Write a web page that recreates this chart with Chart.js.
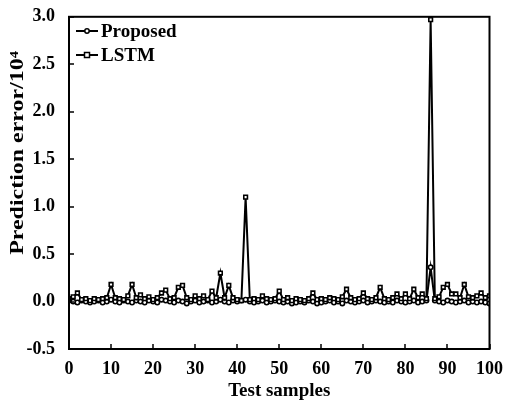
<!DOCTYPE html>
<html>
<head>
<meta charset="utf-8">
<script src="https://cdn.jsdelivr.net/npm/chart.js@4.4.1/dist/chart.umd.min.js"></script>
<style>
html,body{margin:0;padding:0;background:#fff;}
#wrap{width:505px;height:402px;position:relative;}
</style>
</head>
<body>
<div id="wrap"><canvas id="c" width="505" height="402"></canvas></div>
<script>
const samples = [0,1,2,3,4,5,6,7,8,9,10,11,12,13,14,15,16,17,18,19,20,21,22,23,24,25,26,27,28,29,30,31,32,33,34,35,36,37,38,39,40,41,42,43,44,45,46,47,48,49,50,51,52,53,54,55,56,57,58,59,60,61,62,63,64,65,66,67,68,69,70,71,72,73,74,75,76,77,78,79,80,81,82,83,84,85,86,87,88,89,90,91,92,93,94,95,96,97,98,99,100];
const proposed = [
 0.01,0.00,-0.01,0.01,0.00,-0.01,0.00,0.01,-0.01,0.00,
 0.02,0.00,-0.01,0.01,0.00,-0.01,0.01,0.00,-0.01,0.01,
 0.00,-0.01,0.02,0.01,0.00,-0.01,0.01,0.00,-0.02,0.00,
 0.01,-0.01,0.00,0.01,-0.01,0.00,0.02,0.00,-0.01,0.01,
 0.00,0.01,0.02,0.00,-0.01,0.00,0.01,-0.01,0.00,0.01,
 0.00,-0.01,0.00,-0.02,-0.01,0.00,-0.01,0.01,0.00,-0.02,
 -0.01,0.00,0.01,-0.01,0.00,-0.02,0.01,0.00,-0.01,0.00,
 0.01,-0.01,0.00,0.01,0.00,-0.01,0.00,-0.01,0.01,0.00,
 -0.01,0.00,0.01,-0.01,0.00,0.01,0.36,0.01,0.00,-0.01,
 0.01,0.00,-0.01,0.00,0.01,-0.01,0.00,-0.01,0.00,-0.01,
 -0.02];
const lstm = [
 0.03,0.05,0.09,0.02,0.03,0.01,0.03,0.02,0.03,0.04,
 0.18,0.04,0.03,0.02,0.06,0.18,0.04,0.07,0.03,0.05,
 0.02,0.04,0.09,0.12,0.03,0.04,0.15,0.17,0.04,0.02,
 0.06,0.03,0.06,0.02,0.11,0.04,0.30,0.04,0.17,0.04,
 0.02,0.01,1.10,0.02,0.03,0.02,0.06,0.03,0.02,0.03,
 0.11,0.02,0.04,0.01,0.03,0.02,0.01,0.03,0.09,0.02,
 0.03,0.02,0.04,0.03,0.02,0.05,0.13,0.04,0.02,0.03,
 0.09,0.03,0.02,0.04,0.15,0.03,0.02,0.04,0.08,0.03,
 0.08,0.03,0.13,0.04,0.08,0.03,2.97,0.03,0.05,0.15,
 0.18,0.08,0.08,0.04,0.18,0.05,0.04,0.06,0.09,0.04,
 0.06];
const seriesNames = ['Proposed','LSTM'];
const xTitle = 'Test samples';
const yTitle = 'Prediction error/10\u2074';

const FONT = '"Liberation Serif","Times New Roman",serif';
function pts(arr){ return samples.map((s,i)=>({x:s,y:arr[i]})); }

const framePlugin = {
  id:'frame',
  afterDraw(chart){
    const ctx = chart.ctx, a = chart.chartArea;
    const xs = chart.scales.x, ys = chart.scales.y;
    ctx.save();
    ctx.strokeStyle = '#000';
    ctx.lineWidth = 2;
    ctx.strokeRect(a.left, a.top, a.right - a.left, a.bottom - a.top);
    ctx.lineWidth = 1.5;
    ctx.beginPath();
    xs.ticks.forEach(t=>{
      const px = Math.round(xs.getPixelForValue(t.value));
      ctx.moveTo(px, a.bottom); ctx.lineTo(px, a.bottom - 5);
    });
    ys.ticks.forEach(t=>{
      const py = Math.round(ys.getPixelForValue(t.value));
      ctx.moveTo(a.left, py); ctx.lineTo(a.left + 5, py);
    });
    ctx.stroke();
    // y title
    ctx.fillStyle = '#000';
    ctx.font = 'bold 19px ' + FONT;
    ctx.textAlign = 'center';
    ctx.textBaseline = 'middle';
    ctx.translate(18, 153);
    ctx.rotate(-Math.PI/2);
    ctx.scale(1.26, 1);
    ctx.fillText(yTitle, 0, 0);
    ctx.restore();
    // legend
    ctx.save();
    const items = [
      {name:seriesNames[0], y:31, style:'circle'},
      {name:seriesNames[1], y:55, style:'rect'}
    ];
    items.forEach(it=>{
      ctx.strokeStyle = '#000';
      ctx.lineWidth = 2;
      ctx.beginPath(); ctx.moveTo(76, it.y); ctx.lineTo(98, it.y); ctx.stroke();
      ctx.lineWidth = 1.5;
      ctx.fillStyle = '#fff';
      if(it.style==='circle'){
        ctx.beginPath(); ctx.arc(87, it.y, 2.2, 0, Math.PI*2); ctx.fill(); ctx.stroke();
      } else {
        ctx.fillRect(84.5, it.y-2.5, 5, 5); ctx.strokeRect(84.5, it.y-2.5, 5, 5);
      }
      ctx.fillStyle = '#000';
      ctx.font = 'bold 19px ' + FONT;
      ctx.textAlign = 'left';
      ctx.textBaseline = 'middle';
      ctx.fillText(it.name, 101, it.y + 1);
    });
    ctx.restore();
  }
};

new Chart(document.getElementById('c'), {
  type:'line',
  data:{
    datasets:[
      {label:seriesNames[1], data:pts(lstm), borderColor:'#000', borderWidth:2,
       pointStyle:'rect', pointRadius:2.6, pointBorderWidth:1.6, pointBackgroundColor:'#fff', pointBorderColor:'#000', tension:0},
      {label:seriesNames[0], data:pts(proposed), borderColor:'#000', borderWidth:2,
       pointStyle:'circle', pointRadius:2.2, pointBorderWidth:1.6, pointBackgroundColor:'#fff', pointBorderColor:'#000', tension:0}
    ]
  },
  options:{
    responsive:false,
    animation:false,
    layout:{padding:{left:0,right:15,top:14,bottom:0}},
    plugins:{legend:{display:false}, tooltip:{enabled:false}},
    scales:{
      x:{type:'linear', min:0, max:100,
         ticks:{stepSize:10, color:'#000', font:{family:FONT, size:18, weight:'bold'}, padding:2, maxRotation:0},
         grid:{display:false}, border:{display:false},
         title:{display:true, text:xTitle, color:'#000', font:{family:FONT, size:19, weight:'bold'}, padding:{top:0,bottom:0}},
         afterFit(s){ s.height = 53; }
      },
      y:{min:-0.5, max:3.0,
         ticks:{stepSize:0.5, color:'#000', font:{family:FONT, size:18, weight:'bold'}, padding:6,
                callback:(v)=>v.toFixed(1)},
         grid:{display:false}, border:{display:false},
         afterFit(s){ s.width = 69; }
      }
    }
  },
  plugins:[framePlugin]
});
</script>
</body>
</html>
